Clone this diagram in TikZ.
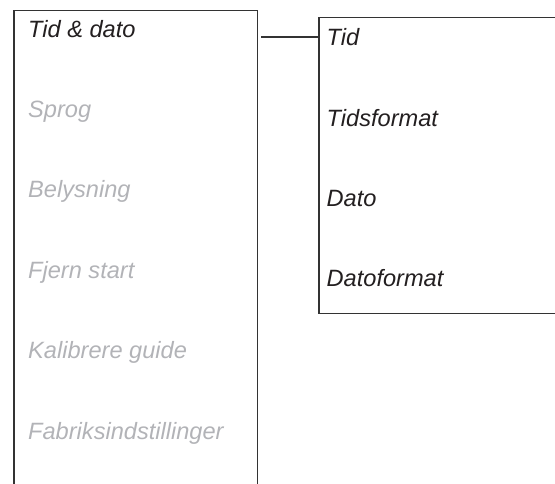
\documentclass[tikz,border=0pt]{standalone}
\usepackage{fontspec}
\setmainfont{Liberation Sans}
\usetikzlibrary{positioning}
\definecolor{ink}{RGB}{35,31,32}
\definecolor{dim}{RGB}{178,179,183}
\definecolor{frame}{RGB}{51,51,51}

\begin{document}
\begin{tikzpicture}[x=1pt, y=-1pt,
  panel/.style={draw=frame, line width=1.3pt, rectangle, anchor=north west,
                inner sep=0pt},
  entry/.style={inner sep=0pt, text height=17pt, text depth=5pt,
                font=\fontsize{23.6}{28}\selectfont\itshape, text=ink},
  off/.style={entry, text=dim},
  link/.style={draw=frame, line width=1.3pt},
  node distance=58pt,
]
  \useasboundingbox (0,0) rectangle (555,483);
  \clip (0,0) rectangle (555,483);

  % frames
  \node[panel, minimum width=243.4pt, minimum height=520pt] (menu) at (13.3,9.5) {};
  \node[panel, minimum width=270pt, minimum height=295.5pt] (sub) at (318.3,17) {};

  % main menu
  \node[entry, anchor=base west] (dt) at (28,37) {Tid \& dato};
  \node[off, below=of dt.south west, anchor=north west] (sprog) {Sprog};
  \node[off, below=of sprog.south west, anchor=north west] (lys) {Belysning};
  \node[off, below=of lys.south west, anchor=north west] (fjern) {Fjern start};
  \node[off, below=of fjern.south west, anchor=north west] (kal) {Kalibrere guide};
  \node[off, below=of kal.south west, anchor=north west] (fab) {Fabriksindstillinger};

  % sub menu
  \node[entry, anchor=base west] (tid) at (326.5,45.7) {Tid};
  \node[entry, below=of tid.south west, anchor=north west] (tfmt) {Tidsformat};
  \node[entry, below=of tfmt.south west, anchor=north west] (dato) {Dato};
  \node[entry, below=of dato.south west, anchor=north west] (dfmt) {Datoformat};

  \draw[link] ([xshift=3pt]menu.east |- dt.base) -- (sub.west |- dt.base);
\end{tikzpicture}
\end{document}
